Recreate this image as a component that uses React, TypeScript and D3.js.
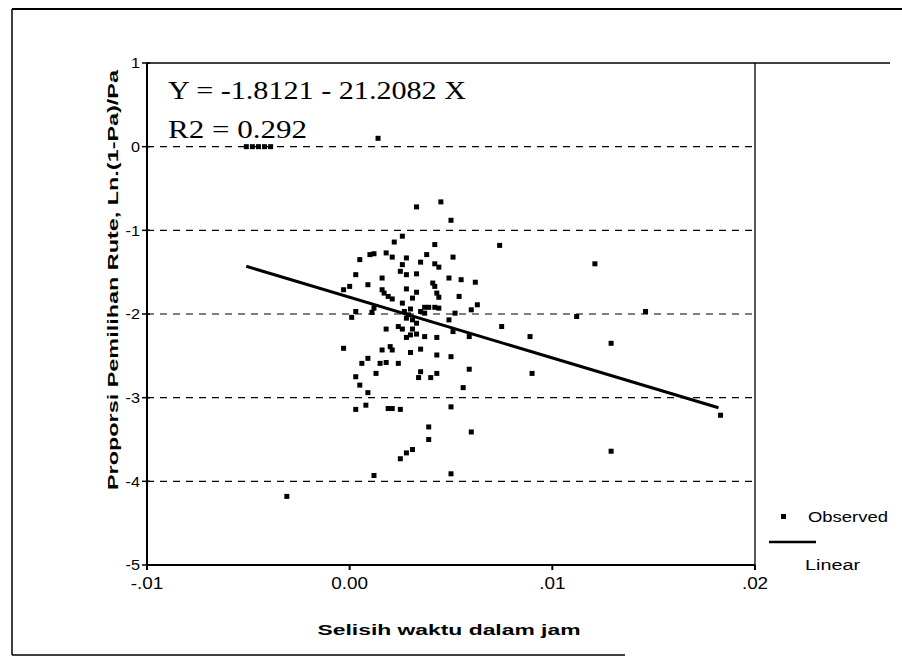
import * as d3 from 'd3';
import React from 'react';

// observed points (x = selisih waktu in hours, y = ln((1-Pa)/Pa))
const obsX = [
  -0.0051, -0.0048, -0.0045, -0.0042, -0.0039,
  0.0014, 0.0033, 0.0045, 0.0050, 0.0022, 0.0042, 0.0026, 0.0074,
  0.0005, 0.0010, 0.0012, 0.0018, 0.0021, 0.0028, 0.0035, 0.0038, 0.0051, 0.0026, 0.0042, 0.0044,
  0.0003, 0.0025, 0.0028, 0.0033, 0.0016, 0.0009, 0.0041, 0.0042, 0.0049, 0.0055, 0.0062,
  -0.0003, 0.0000, 0.0016, 0.0017, 0.0019, 0.0021, 0.0028, 0.0033, 0.0031, 0.0043, 0.0044, 0.0054, 0.0026, 0.0063,
  0.0003, 0.0012, 0.0011, 0.0001, 0.0027, 0.0030, 0.0029, 0.0028, 0.0031, 0.0033, 0.0035, 0.0037, 0.0039, 0.0042, 0.0044, 0.0037, 0.0049, 0.0052, 0.0060, 0.0075,
  0.0018, 0.0024, 0.0026, 0.0031, 0.0030, 0.0028, 0.0033, 0.0037, 0.0043, 0.0051, 0.0059,
  -0.0003, 0.0016, 0.0020, 0.0021, 0.0030, 0.0035, 0.0043, 0.0050,
  0.0006, 0.0009, 0.0015, 0.0018, 0.0024, 0.0035, 0.0034, 0.0040, 0.0043, 0.0059, 0.0003, 0.0013, 0.0005, 0.0009, 0.0056,
  0.0003, 0.0008, 0.0019, 0.0021, 0.0025, 0.0050, 0.0039, 0.0039, 0.0060, 0.0025, 0.0028, 0.0031, 0.0012, 0.0050,
  -0.0031, 0.0121, 0.0112, 0.0146, 0.0089, 0.0129, 0.0090, 0.0183, 0.0129,
];
const obsY = [
  0, 0, 0, 0, 0,
  0.10, -0.72, -0.66, -0.88, -1.14, -1.17, -1.07, -1.18,
  -1.35, -1.29, -1.28, -1.27, -1.32, -1.33, -1.38, -1.29, -1.32, -1.41, -1.40, -1.44,
  -1.53, -1.49, -1.53, -1.52, -1.57, -1.65, -1.63, -1.67, -1.57, -1.59, -1.62,
  -1.71, -1.67, -1.71, -1.75, -1.79, -1.82, -1.70, -1.74, -1.81, -1.75, -1.80, -1.79, -1.87, -1.89,
  -1.97, -1.93, -1.98, -2.04, -1.97, -1.94, -2.01, -2.05, -2.07, -2.11, -1.97, -1.92, -1.92, -1.92, -1.93, -1.99, -2.07, -1.99, -1.95, -2.15,
  -2.18, -2.15, -2.18, -2.18, -2.25, -2.28, -2.24, -2.27, -2.28, -2.21, -2.27,
  -2.41, -2.43, -2.39, -2.43, -2.46, -2.42, -2.49, -2.51,
  -2.59, -2.53, -2.59, -2.58, -2.59, -2.69, -2.76, -2.76, -2.71, -2.66, -2.75, -2.71, -2.85, -2.94, -2.88,
  -3.14, -3.09, -3.13, -3.13, -3.14, -3.11, -3.35, -3.50, -3.41, -3.73, -3.66, -3.62, -3.93, -3.91,
  -4.18, -1.40, -2.03, -1.97, -2.27, -2.35, -2.71, -3.21, -3.64,
];

// fitted line as drawn on the scan
const fitX = [-0.0051, 0.0182];
const fitY = [-1.43, -3.12];

const yTicks = [1, 0, -1, -2, -3, -4, -5];
const gridY = [0, -1, -2, -3, -4];
const xTicks = [-0.01, 0, 0.01, 0.02];
const xTickLabels = ['-.01', '0.00', '.01', '.02'];

const equation = 'Y  = -1.8121 - 21.2082 X';
const rSquared = 'R2 =  0.292';
const xTitle = 'Selisih waktu dalam jam';
const yTitle = 'Proporsi Pemilihan Rute, Ln.(1-Pa)/Pa';
const legendLabels = ['Observed', 'Linear'];

export default function App() {
  const width = 902;
  const height = 666;

  const x = d3.scaleLinear().domain([-0.01, 0.02]).range([147, 755]);
  const y = d3.scaleLinear().domain([-5, 1]).range([565, 63]);

  const points = obsX.slice(0, Math.min(obsX.length, obsY.length)).map((v, i) => ({ x: v, y: obsY[i] }));
  const fitLine = d3.line<number>()
    .x((d) => x(d))
    .y((d, i) => y(fitY[i]));

  const sans = 'Arial, "Liberation Sans", Helvetica, sans-serif';
  const serif = '"Times New Roman", "Liberation Serif", serif';
  const sq = 5;
  // the scan stretches glyphs sideways a little
  const wide = 'scale(1.18,1)';

  return (
    <svg width={width} height={height} style={{ position: 'absolute', left: 0, top: 0, background: '#fff' }}>
      {/* outer frame of the scanned figure */}
      <line x1={12} y1={9} x2={902} y2={9} stroke="#000" strokeWidth={2} />
      <line x1={12} y1={9} x2={12} y2={655} stroke="#000" strokeWidth={1.5} />
      <line x1={12} y1={655} x2={625} y2={655} stroke="#000" strokeWidth={1.5} />

      {/* plot frame */}
      <line x1={x(-0.01)} y1={y(1)} x2={890} y2={y(1)} stroke="#000" strokeWidth={1.5} />
      <line x1={x(0.02)} y1={y(1)} x2={x(0.02)} y2={y(-5)} stroke="#000" strokeWidth={1.3} />

      {/* dashed gridlines */}
      {gridY.map((v) => (
        <line key={'g' + v} x1={x(-0.01)} x2={x(0.02)} y1={y(v)} y2={y(v)}
          stroke="#000" strokeWidth={1.2} strokeDasharray="7 6" />
      ))}

      {/* axes */}
      <line x1={x(-0.01)} y1={y(1)} x2={x(-0.01)} y2={y(-5)} stroke="#000" strokeWidth={2} />
      <line x1={x(-0.01)} y1={y(-5)} x2={x(0.02)} y2={y(-5)} stroke="#000" strokeWidth={2} />

      {yTicks.map((v) => (
        <g key={'y' + v}>
          <line x1={x(-0.01) - 5} x2={x(-0.01) + 3} y1={y(v)} y2={y(v)} stroke="#000" strokeWidth={1.5} />
          <g transform={`translate(${x(-0.01) - 7},${y(v)}) scale(1.08,1)`}>
            <text dy="0.35em" textAnchor="end" fontFamily={sans} fontSize={15}>{v}</text>
          </g>
        </g>
      ))}
      {xTicks.map((v, i) => (
        <g key={'x' + i}>
          <line x1={x(v)} x2={x(v)} y1={y(-5)} y2={y(-5) + 5} stroke="#000" strokeWidth={2} />
          <g transform={`translate(${x(v)},589) ${wide}`}>
            <text textAnchor="middle" fontFamily={sans} fontSize={16}>{xTickLabels[i]}</text>
          </g>
        </g>
      ))}

      {/* axis titles */}
      <text x={449} y={635} textAnchor="middle" fontFamily={sans} fontWeight="bold" fontSize={14}
        textLength={263} lengthAdjust="spacingAndGlyphs">{xTitle}</text>
      <text transform={`translate(118,${280}) rotate(-90)`} textAnchor="middle" fontFamily={sans}
        fontWeight="bold" fontSize={14} textLength={420} lengthAdjust="spacingAndGlyphs">{yTitle}</text>

      {/* regression text */}
      <text x={168} y={99} fontFamily={serif} fontSize={26} textLength={298} lengthAdjust="spacingAndGlyphs">{equation}</text>
      <text x={168} y={138} fontFamily={serif} fontSize={26} textLength={139} lengthAdjust="spacingAndGlyphs">{rSquared}</text>

      {/* fitted line */}
      <path d={fitLine(fitX) || ''} fill="none" stroke="#000" strokeWidth={3} />

      {/* observed points */}
      {points.map((p, i) => (
        <rect key={'p' + i} x={x(p.x) - sq / 2} y={y(p.y) - sq / 2} width={sq} height={sq} fill="#000" />
      ))}

      {/* legend */}
      <rect x={781} y={514} width={5} height={5} fill="#000" />
      <text x={808} y={522} fontFamily={sans} fontSize={14} textLength={80} lengthAdjust="spacingAndGlyphs">{legendLabels[0]}</text>
      <line x1={769} x2={816} y1={542} y2={542} stroke="#000" strokeWidth={2.5} />
      <text x={805} y={570} fontFamily={sans} fontSize={14} textLength={55} lengthAdjust="spacingAndGlyphs">{legendLabels[1]}</text>
    </svg>
  );
}
